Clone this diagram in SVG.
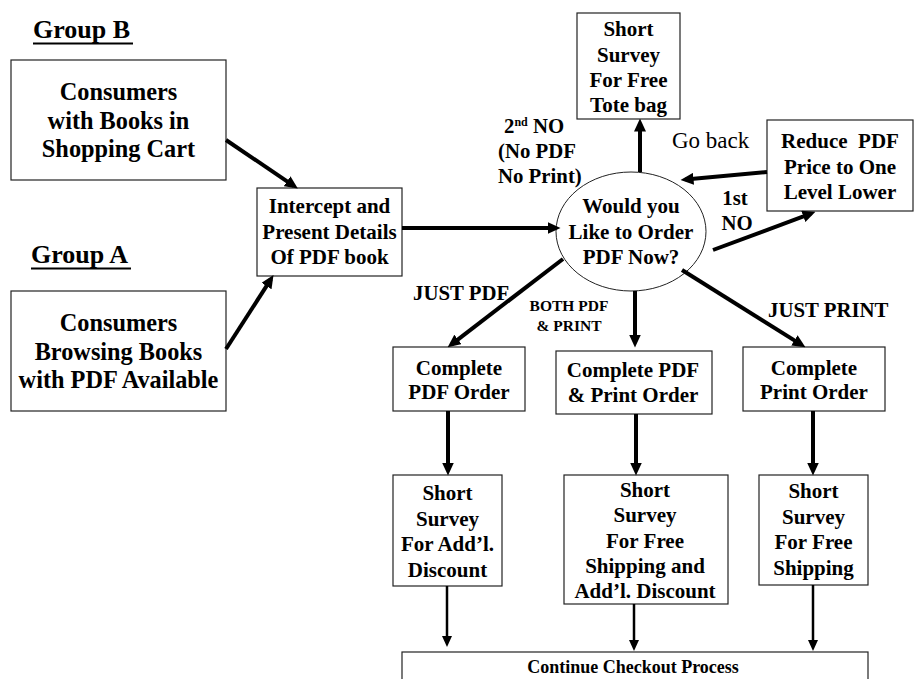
<svg xmlns="http://www.w3.org/2000/svg" width="915" height="679" viewBox="0 0 915 679">
<style>
text{font-family:"Liberation Serif","Times New Roman",serif;font-weight:bold;fill:#000}
.box{fill:#fff;stroke:#222;stroke-width:1.2}
.t{font-size:21px;text-anchor:middle}
.c{font-size:24.3px;text-anchor:middle}
.g{font-size:26px}
.lbl{font-size:20.8px}
.reg{font-weight:normal;font-size:23px}
.thick{stroke:#000;stroke-width:4;fill:none;marker-end:url(#ah)}
.thin{stroke:#000;stroke-width:2.5;fill:none;marker-end:url(#ahs)}
</style>
<defs>
<marker id="ah" markerUnits="userSpaceOnUse" markerWidth="13" markerHeight="12" refX="8" refY="6" orient="auto"><path d="M0,0 L13,6 L0,12 Z" fill="#000"/></marker>
<marker id="ahs" markerUnits="userSpaceOnUse" markerWidth="11" markerHeight="10" refX="6" refY="5" orient="auto"><path d="M0,0 L11,5 L0,10 Z" fill="#000"/></marker>
</defs>
<rect width="915" height="679" fill="#fff"/>

<g id="groupB-label">
<text class="g" x="33" y="38">Group B</text>
<line x1="33" y1="43.5" x2="133" y2="43.5" stroke="#000" stroke-width="2"/>
</g>
<g id="groupA-label">
<text class="g" x="31" y="263">Group A</text>
<line x1="31" y1="268.5" x2="131" y2="268.5" stroke="#000" stroke-width="2"/>
</g>

<g id="consumers-cart">
<rect class="box" x="11" y="60" width="215" height="120"/>
<text class="c" x="118.5" y="100">Consumers</text>
<text class="c" x="118.5" y="128.5">with Books in</text>
<text class="c" x="118.5" y="157">Shopping Cart</text>
</g>
<g id="consumers-browsing">
<rect class="box" x="11" y="291" width="215" height="120"/>
<text class="c" x="118.5" y="331">Consumers</text>
<text class="c" x="118.5" y="359.5">Browsing Books</text>
<text class="c" x="118.5" y="388">with PDF Available</text>
</g>
<g id="intercept">
<rect class="box" x="257" y="188" width="145" height="88"/>
<text class="t" x="329.5" y="213">Intercept and</text>
<text class="t" x="329.5" y="238.5">Present Details</text>
<text class="t" x="329.5" y="264">Of PDF book</text>
</g>
<g id="decision">
<ellipse cx="631" cy="231.5" rx="75" ry="59.5" fill="#fff" stroke="#222" stroke-width="1"/>
<text class="t" x="631" y="213">Would you</text>
<text class="t" x="631" y="238.5">Like to Order</text>
<text class="t" x="631" y="264">PDF Now?</text>
</g>
<g id="tote-survey">
<rect class="box" x="577" y="13" width="103" height="106"/>
<text class="t" x="628.5" y="36">Short</text>
<text class="t" x="628.5" y="61.5">Survey</text>
<text class="t" x="628.5" y="87">For Free</text>
<text class="t" x="628.5" y="112">Tote bag</text>
</g>
<g id="reduce-price">
<rect class="box" x="767" y="120" width="146" height="91"/>
<text class="t" x="840" y="148" xml:space="preserve">Reduce  PDF</text>
<text class="t" x="840" y="173.5">Price to One</text>
<text class="t" x="840" y="199">Level Lower</text>
</g>
<g id="complete-pdf">
<rect class="box" x="393" y="347" width="132" height="64"/>
<text class="t" x="459" y="375">Complete</text>
<text class="t" x="459" y="398.5">PDF Order</text>
</g>
<g id="complete-both">
<rect class="box" x="556" y="351" width="156" height="63"/>
<text class="t" x="633" y="377">Complete PDF</text>
<text class="t" x="633" y="402">&amp; Print Order</text>
</g>
<g id="complete-print">
<rect class="box" x="743" y="347" width="142" height="64"/>
<text class="t" x="814" y="375">Complete</text>
<text class="t" x="814" y="398.5">Print Order</text>
</g>
<g id="survey-discount">
<rect class="box" x="393" y="475" width="109" height="111"/>
<text class="t" x="447.5" y="500">Short</text>
<text class="t" x="447.5" y="525.5">Survey</text>
<text class="t" x="447.5" y="551">For Add’l.</text>
<text class="t" x="447.5" y="576.5">Discount</text>
</g>
<g id="survey-both">
<rect class="box" x="564" y="475" width="164" height="129"/>
<text class="t" x="645" y="497">Short</text>
<text class="t" x="645" y="522">Survey</text>
<text class="t" x="645" y="547.5">For Free</text>
<text class="t" x="645" y="573">Shipping and</text>
<text class="t" x="645" y="598">Add’l. Discount</text>
</g>
<g id="survey-shipping">
<rect class="box" x="759" y="475" width="109" height="110"/>
<text class="t" x="813.5" y="498">Short</text>
<text class="t" x="813.5" y="523.5">Survey</text>
<text class="t" x="813.5" y="549">For Free</text>
<text class="t" x="813.5" y="575">Shipping</text>
</g>
<g id="checkout">
<rect class="box" x="402" y="652" width="466" height="40"/>
<text x="633" y="673" font-size="18" text-anchor="middle">Continue Checkout Process</text>
</g>

<g id="connectors">
<line class="thick" x1="226" y1="140" x2="293.7" y2="185.8"/>
<line class="thick" x1="226" y1="349" x2="270.8" y2="279.3"/>
<line class="thick" x1="402" y1="228" x2="555.5" y2="228"/>
<line class="thick" x1="640" y1="172" x2="640" y2="123.5"/>
<line class="thick" x1="767" y1="172" x2="685.5" y2="179.6"/>
<line class="thick" x1="713" y1="250" x2="810.8" y2="213.6"/>
<line class="thick" x1="563" y1="259" x2="451.6" y2="344.3"/>
<line class="thick" x1="635" y1="291" x2="635" y2="342.5"/>
<line class="thick" x1="682" y1="270" x2="801.2" y2="344.6"/>
<line class="thick" x1="448" y1="411" x2="448" y2="470.5"/>
<line class="thick" x1="636" y1="414" x2="636" y2="470.5"/>
<line class="thick" x1="813" y1="411" x2="813" y2="470.5"/>
<line class="thin" x1="447" y1="586" x2="447" y2="642"/>
<line class="thin" x1="634" y1="604" x2="634" y2="646"/>
<line class="thin" x1="813" y1="585" x2="813" y2="646"/>
</g>

<g id="labels">
<text class="lbl" x="504" y="133">2<tspan font-size="12" dy="-7">nd</tspan><tspan dy="7"> NO</tspan></text>
<text class="lbl" x="498" y="158">(No PDF</text>
<text class="lbl" x="498" y="182.5">No Print)</text>
<text class="reg" x="672" y="148">Go back</text>
<text class="lbl" x="735" y="205" text-anchor="middle">1st</text>
<text class="lbl" x="737" y="230" text-anchor="middle">NO</text>
<text class="lbl" x="413" y="300">JUST PDF</text>
<text x="569" y="311" font-size="15.5" text-anchor="middle">BOTH PDF</text>
<text x="569" y="331" font-size="15.5" text-anchor="middle">&amp; PRINT</text>
<text class="lbl" x="768" y="317">JUST PRINT</text>
</g>
</svg>
